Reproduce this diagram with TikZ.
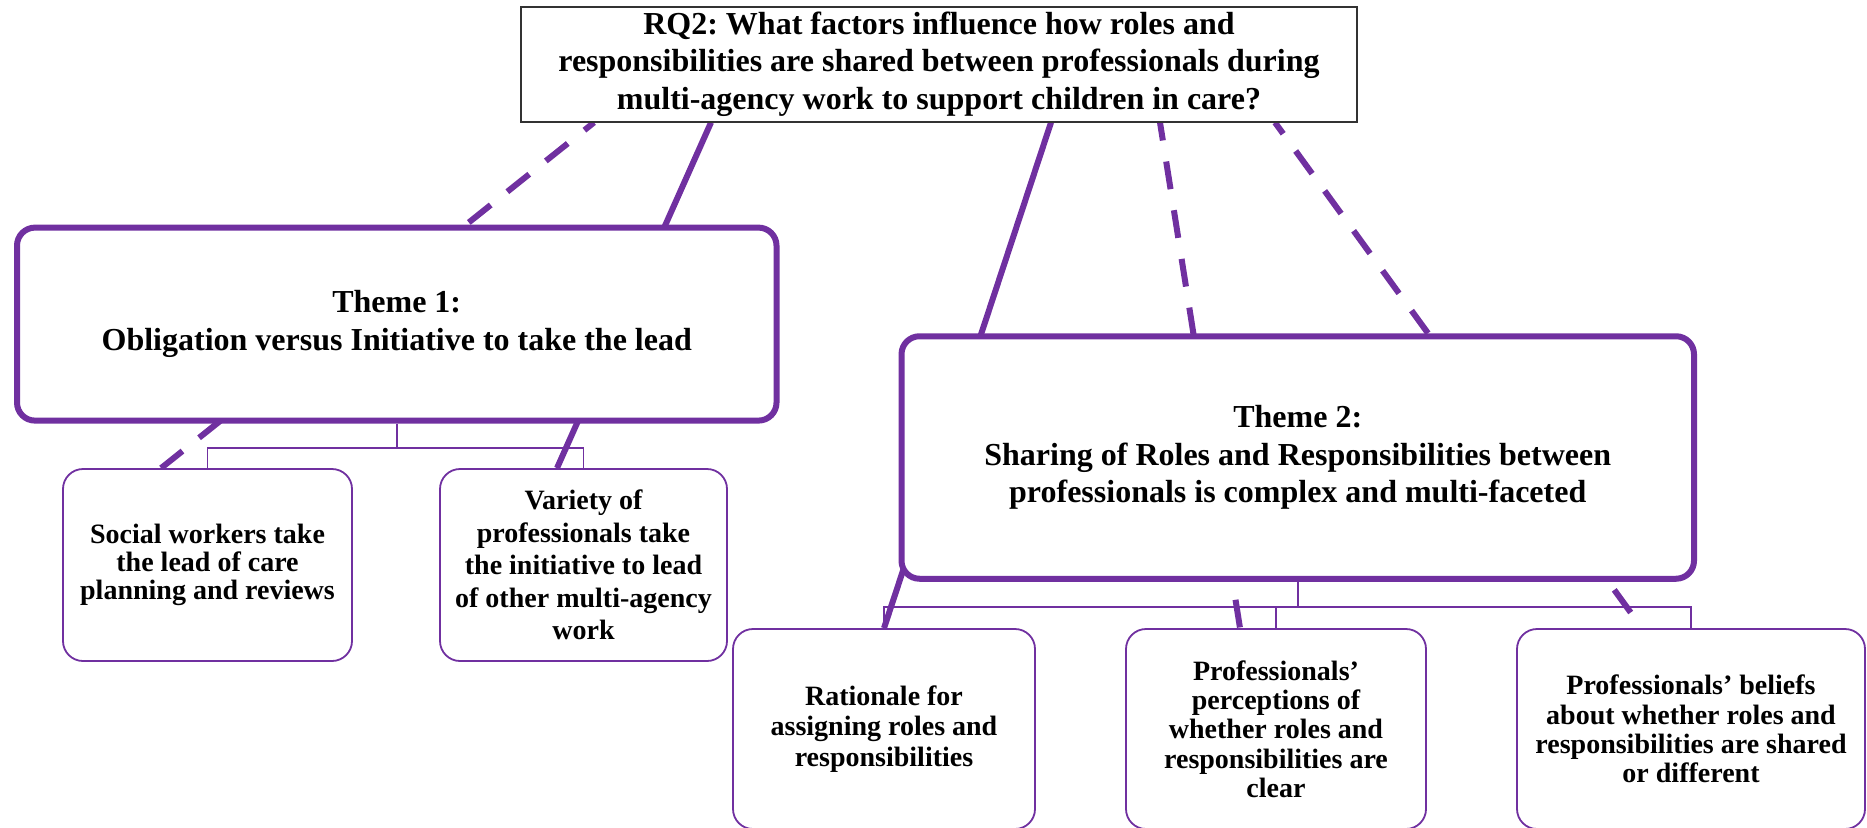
\documentclass[tikz,border=0pt]{standalone}
\usepackage{fontspec}
\setmainfont{Liberation Serif}
\usetikzlibrary{calc,backgrounds}
\definecolor{plum}{RGB}{112,48,160}
\definecolor{frame}{RGB}{50,50,50}
\frenchspacing
\begin{document}
\begin{tikzpicture}[x=1pt,y=-1pt,
  question/.style={draw=frame,line width=2pt,fill=white,align=center,inner sep=0pt,
    font=\bfseries\fontsize{32}{37.5}\selectfont},
  theme/.style={draw=plum,line width=6pt,rounded corners=18pt,fill=white,align=center,
    inner sep=0pt,font=\bfseries\fontsize{32}{37.5}\selectfont},
  subtheme/.style={draw=plum,line width=1.8pt,rounded corners=20pt,fill=white,
    align=center,inner sep=0pt,font=\bfseries\fontsize{28}{29.3}\selectfont},
  bracket/.style={draw=plum,line width=1.6pt},
  link/.style={draw=plum,line width=6pt},
  dashlink/.style={link,dash pattern=on 28pt off 21.3pt}]
\useasboundingbox (0,0) rectangle (1867,827);

% research question
\node[question,minimum width=836pt,minimum height=114.5pt] (rq) at (939,64.25)
  {RQ2: What factors influence how roles and\\responsibilities are shared between professionals during\\multi-agency work to support children in care?};

% themes
\node[theme,minimum width=759.5pt,minimum height=193pt] (t1) at (396.75,324.1)
  {Theme 1:\\Obligation versus Initiative to take the lead};
\node[theme,minimum width=792.5pt,minimum height=242.5pt] (t2) at (1297.75,457.5)
  {Theme 2:\\Sharing of Roles and Responsibilities between\\professionals is complex and multi-faceted};

% sub-themes
\node[subtheme,minimum width=289pt,minimum height=192pt,
  font=\bfseries\fontsize{28}{28}\selectfont] (s1) at (207.5,565)
  {Social workers take\\the lead of care\\planning and reviews};
\node[subtheme,minimum width=287pt,minimum height=192pt,
  font=\bfseries\fontsize{28}{32.5}\selectfont] (s2) at (583.5,565)
  {Variety of\\professionals take\\the initiative to lead\\of other multi-agency\\work};
\node[subtheme,minimum width=302pt,minimum height=200pt,
  font=\bfseries\fontsize{28}{30.2}\selectfont] (s3) at (884,729)
  {Rationale for\\assigning roles and\\responsibilities};
\node[subtheme,minimum width=300pt,minimum height=200pt] (s4) at (1276,729)
  {Professionals’\\perceptions of\\whether roles and\\responsibilities are\\clear};
\node[subtheme,minimum width=348pt,minimum height=200pt] (s5) at (1691,729)
  {Professionals’ beliefs\\about whether roles and\\responsibilities are shared\\or different};

\begin{scope}[on background layer]
  % hierarchy brackets
  \coordinate (j1) at ($(t1.south)+(0,24.3)$);
  \coordinate (j2) at ($(t2.south)+(0,25.3)$);
  \draw[bracket] (t1.south) -- (j1);
  \draw[bracket] (s1.north) |- (j1) -| (s2.north);
  \draw[bracket] (t2.south) -- (j2);
  \draw[bracket] (s3.north) |- (j2) -| (s5.north);
  \draw[bracket] (s4.north) -- (s4.north |- j2);
  % links from the question, passing behind the themes
  \draw[dashlink,dash phase=15.7pt] ($(rq.south west)+(74,0)$) -- ($(s1.north west)+(99,0)$);
  \draw[link] ($(rq.south west)+(191,0)$) -- ($(s2.north)+(-26.5,0)$);
  \draw[link] ($(rq.south west)+(531,0)$) -- (s3.north);
  \draw[dashlink,dash phase=9.8pt] ($(rq.south west)+(640,0)$) -- ($(s4.north)+(-36,0)$);
  \draw[dashlink,dash phase=14.1pt] ($(rq.south west)+(755,0)$) -- ($(s5.north)+(-49,0)$);
\end{scope}
\end{tikzpicture}
\end{document}
